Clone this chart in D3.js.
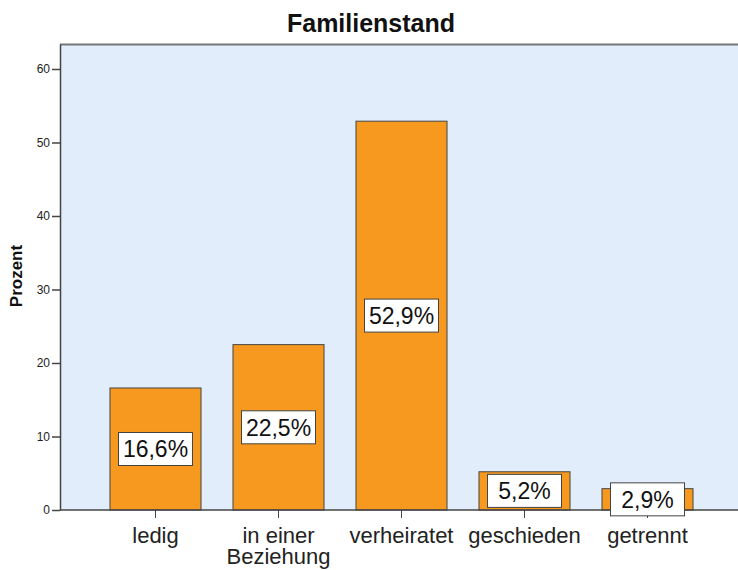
<!DOCTYPE html>
<html lang="de">
<head>
<meta charset="utf-8">
<title>Familienstand</title>
<script src="https://cdn.jsdelivr.net/npm/d3@7"></script>
<style>
  body { margin: 0; background: #fff; }
  text { font-family: Arial, "Liberation Sans", sans-serif; }
  .axis path, .axis line { stroke: #444; }
  .axis text { fill: #222; }
</style>
</head>
<body>
<script>
// data
const categories = ["ledig", "in einer Beziehung", "verheiratet", "geschieden", "getrennt"];
const labelLines = [["ledig"], ["in einer", "Beziehung"], ["verheiratet"], ["geschieden"], ["getrennt"]];
const percents = [16.6, 22.5, 52.9, 5.2, 2.9];
const yTicks = [0, 10, 20, 30, 40, 50, 60];

const width = 738, height = 570;
const plotLeft = 60, plotTop = 44, plotRight = 738, plotBottom = 510;

const svg = d3.select("body").append("svg")
  .attr("width", width)
  .attr("height", height);

const x = d3.scaleBand()
  .domain(categories)
  .range([94, 709])
  .paddingInner(0.26)
  .paddingOuter(0.13);

const y = d3.scaleLinear()
  .domain([0, 63.4])
  .range([plotBottom, plotTop]);

// plot background
svg.append("rect")
  .attr("x", plotLeft).attr("y", plotTop)
  .attr("width", plotRight - plotLeft).attr("height", plotBottom - plotTop)
  .attr("fill", "#e1edfa");
svg.append("line")
  .attr("x1", plotLeft).attr("x2", plotRight)
  .attr("y1", plotTop + 0.5).attr("y2", plotTop + 0.5)
  .attr("stroke", "#777").attr("stroke-width", 2);

// bars
svg.append("g")
  .selectAll("rect")
  .data(percents)
  .join("rect")
  .attr("x", (d, i) => x(categories[i]))
  .attr("y", d => y(d))
  .attr("width", x.bandwidth())
  .attr("height", d => plotBottom - y(d))
  .attr("fill", "#f7991f")
  .attr("stroke", "#444")
  .attr("stroke-width", 1);

// y axis
const yAxis = svg.append("g")
  .attr("class", "axis")
  .attr("transform", `translate(${plotLeft},0)`)
  .call(d3.axisLeft(y).tickValues(yTicks).tickSize(8).tickSizeOuter(0));
yAxis.select(".domain").attr("stroke-width", 1.5);
yAxis.selectAll(".tick line").attr("stroke-width", 1.5);
yAxis.selectAll("text").attr("font-size", 12).attr("x", -10);

// x axis
const xAxis = svg.append("g")
  .attr("class", "axis")
  .attr("transform", `translate(0,${plotBottom})`)
  .call(d3.axisBottom(x).tickSize(8).tickSizeOuter(0));
xAxis.select(".domain").attr("d", `M${plotLeft},0H${plotRight}`).attr("stroke-width", 1.5);
xAxis.selectAll(".tick text").remove();
xAxis.selectAll(".tick").each(function(d, i) {
  const t = d3.select(this).append("text")
    .attr("fill", "#111")
    .attr("font-size", 22)
    .attr("text-anchor", "middle")
    .attr("y", 33);
  labelLines[i].forEach((s, k) => {
    t.append("tspan").attr("x", 0).attr("dy", k === 0 ? 0 : 21).text(s);
  });
});

// value labels
const lab = svg.append("g")
  .selectAll("g")
  .data(percents)
  .join("g")
  .attr("transform", (d, i) => `translate(${x(categories[i]) + x.bandwidth() / 2},${y(d / 2)})`);
lab.append("rect")
  .attr("x", -37).attr("y", -16.5)
  .attr("width", 74).attr("height", 33)
  .attr("fill", "#fff")
  .attr("stroke", "#444");
lab.append("text")
  .attr("text-anchor", "middle")
  .attr("dy", "0.36em")
  .attr("font-size", 23)
  .attr("fill", "#111")
  .text(d => d.toFixed(1).replace(".", ",") + "%");

// title
svg.append("text")
  .attr("x", 371).attr("y", 32)
  .attr("text-anchor", "middle")
  .attr("font-size", 25)
  .attr("font-weight", "bold")
  .attr("fill", "#111")
  .text("Familienstand");

// y label
svg.append("text")
  .attr("transform", "translate(22,276) rotate(-90)")
  .attr("text-anchor", "middle")
  .attr("font-size", 17)
  .attr("font-weight", "bold")
  .attr("fill", "#111")
  .text("Prozent");
</script>
</body>
</html>
